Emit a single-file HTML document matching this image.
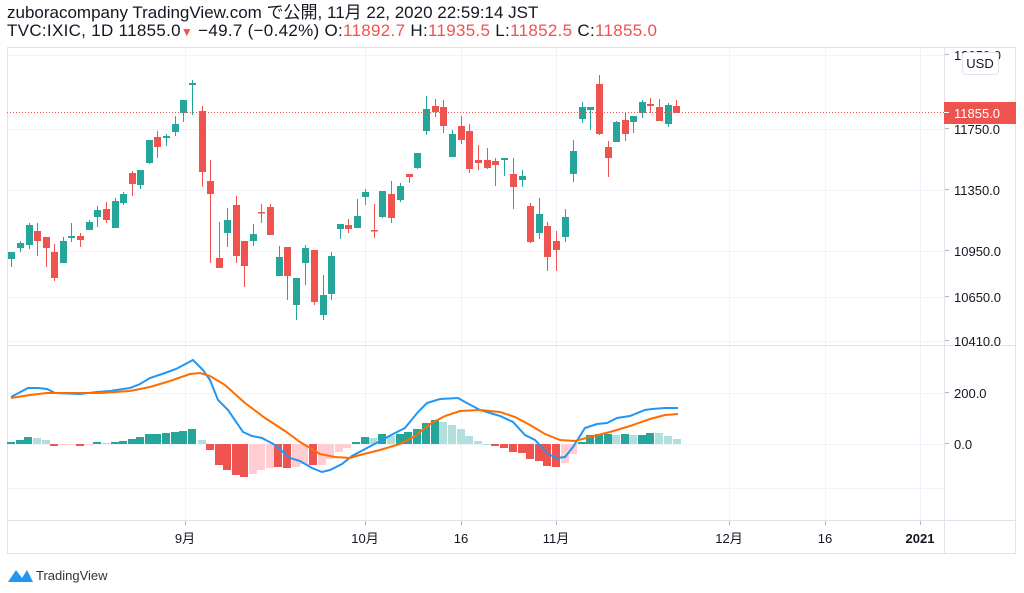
<!DOCTYPE html>
<html><head><meta charset="utf-8"><style>
body{margin:0;width:1024px;height:593px;background:#fff;overflow:hidden;font-family:"Liberation Sans","Noto Sans CJK JP",sans-serif;}
.h{position:absolute;left:7px;font-size:17px;color:#131722;white-space:nowrap;line-height:18px;}
.r{color:#ef5350}
</style></head><body>
<div class="h" style="top:4px">zuboracompany TradingView.com で公開, 11月 22, 2020 22:59:14 JST</div>
<div class="h" style="top:22px;letter-spacing:0.3px">TVC:IXIC, 1D 11855.0<span class="r" style="font-size:12px">▼</span> −49.7 (−0.42%) O:<span class="r">11892.7</span> H:<span class="r">11935.5</span> L:<span class="r">11852.5</span> C:<span class="r">11855.0</span></div>
<svg id="s" width="1024" height="593" style="position:absolute;left:0;top:0" xmlns="http://www.w3.org/2000/svg" font-family="Liberation Sans, Noto Sans CJK JP, sans-serif"></svg>
<script>
const s=document.getElementById('s');let o='';
const L=(x1,y1,x2,y2,c,w,d)=>o+=`<line x1="${x1}" y1="${y1}" x2="${x2}" y2="${y2}" stroke="${c}" stroke-width="${w||1}" ${d?'stroke-dasharray="'+d+'"':''}/>`;
const R=(x,y,w,h,c)=>o+=`<rect x="${x}" y="${y}" width="${w}" height="${h}" fill="${c}"/>`;
const T=(x,y,t,sz,c,a,wt)=>o+=`<text x="${x}" y="${y}" font-size="${sz}" fill="${c||'#131722'}" text-anchor="${a||'start'}" ${wt?'font-weight="bold"':''}>${t}</text>`;
const G='#f0f3fa';
[185,365,461,556,729,825,920].forEach(x=>L(x+.5,47,x+.5,520,G));
[55,129,190,251,297,341].forEach(y=>L(7,y+.5,944,y+.5,G));
[393,444,488].forEach(y=>L(7,y+.5,944,y+.5,G));
const B='#e0e3eb';
L(7.5,47,7.5,553,B);L(7,47.5,1016,47.5,B);L(1015.5,47,1015.5,553,B);L(7,553.5,1016,553.5,B);
L(944.5,47,944.5,553,B);L(7,345.5,1016,345.5,B);L(7,520.5,1016,520.5,B);
const C=[[11,259,252,252,267],[20,248,243,241,252],[29,245,225,223,249],[37,231,241,223,256],[46,237,248,237,267],[54,252,278,244,281],[63,263,241,237,263],[71,238,236,223,242],[80,236,240,233,247],[89,230,222,220,230],[97,217,210,206,227],[106,209,220,202,223],[115,228,201,198,228],[123,203,194,192,205],[132,173,184,171,196],[140,185,170,170,189],[149,163,140,140,164],[157,137,147,131,158],[166,138,136,134,146],[175,132,124,116,136],[183,113,100,100,122],[192,85,83,80,115],[202,111,172,106,187],[210,181,194,160,263],[219,258,268,222,268],[227,233,220,208,247],[236,205,256,196,263],[244,241,266,241,287],[253,241,234,224,246],[261,212,213,204,223],[270,207,235,204,235],[279,276,257,246,276],[287,247,276,247,300],[296,305,278,278,320],[305,263,248,245,285],[314,250,302,250,305],[323,315,295,275,320],[331,294,256,252,300],[340,229,224,224,239],[348,225,229,219,233],[357,228,216,199,228],[365,197,192,189,205],[374,230,231,204,238],[382,217,191,191,218],[391,194,218,181,223],[400,200,186,183,202],[409,174,177,174,183],[417,168,153,153,169],[426,131,109,96,135],[435,106,112,99,117],[443,107,126,100,133],[452,157,134,130,157],[461,126,140,116,144],[469,131,169,124,173],[478,160,163,145,170],[487,160,168,148,169],[495,161,165,158,186],[504,160,158,158,176],[513,174,187,158,209],[522,180,176,170,187],[530,206,242,203,243],[539,233,214,198,239],[547,226,257,222,271],[556,241,250,231,271],[565,237,217,209,242],[573,174,151,140,182],[582,119,107,102,123],[590,110,107,107,130],[599,84,134,75,135],[608,147,158,141,177],[616,142,122,121,142],[625,120,134,113,141],[633,122,116,116,133],[642,113,102,100,118],[650,104,106,98,113],[659,107,121,99,121],[668,124,105,103,127],[676,106,113,100,113]];
C.forEach(([x,op,cl,h,l])=>{const up=cl<op;const c=up?'#26a69a':'#ef5350';L(x+.5,h,x+.5,l,c);const t=Math.min(op,cl),b=Math.max(op,cl);R(x-3,t,7,Math.max(b-t,1.5),c);});
L(7,112.5,944,112.5,'#ef5350',1,'1 2');
const DG='#26a69a',LG='#b2dfdb',DR='#ef5350',LR='#ffcdd2';
const H=[[11,442,DG],[20,440,DG],[28,437,DG],[37,438,LG],[46,440,LG],[54,446,DR],[63,445,LR],[71,445,LR],[80,446,DR],[89,445,LR],[97,442,DG],[106,443,LG],[115,442,DG],[123,441,DG],[132,439,DG],[140,437,DG],[149,434,DG],[157,434,DG],[166,433,DG],[175,432,DG],[183,431,DG],[192,429,DG],[202,440,LG],[210,450,DR],[219,465,DR],[227,470,DR],[236,475,DR],[244,477,DR],[253,474,LR],[261,470,LR],[270,468,LR],[278,467,DR],[287,468,DR],[296,467,LR],[304,464,LR],[313,465,DR],[322,465,LR],[330,459,LR],[339,452,LR],[347,448,LR],[356,442,DG],[365,437,DG],[373,438,LG],[382,434,DG],[391,436,LG],[400,434,DG],[408,432,DG],[417,429,DG],[426,423,DG],[435,420,DG],[443,422,LG],[452,425,LG],[461,429,LG],[469,436,LG],[478,441,LG],[487,444,LG],[495,446,DR],[504,448,DR],[513,452,DR],[522,453,DR],[530,459,DR],[539,461,DR],[547,466,DR],[556,467,DR],[565,463,LR],[573,454,LR],[582,442,DG],[590,435,DG],[599,434,DG],[608,434,DG],[616,435,LG],[625,434,DG],[633,435,LG],[642,435,DG],[650,433,DG],[659,433,LG],[668,436,LG],[677,439,LG]];
H.forEach(([x,y,c])=>{const t=Math.min(y,444),b=Math.max(y,444);R(x-4,t,8,Math.max(b-t,1),c);});
const P=a=>a.map(p=>p.join(',')).join(' ');
const blue=[[11,397],[28,388],[38,388],[47,389],[55,393],[80,394],[97,392],[110,391],[130,388],[140,384],[150,378],[165,373],[176,369],[193,360],[203,370],[210,380],[218,400],[228,410],[243,432],[252,436],[262,438],[275,445],[290,458],[300,461],[312,468],[322,472],[330,470],[342,464],[352,456],[367,448],[380,441],[395,433],[405,428],[418,412],[427,403],[440,399],[458,398],[465,402],[480,410],[500,416],[513,422],[525,435],[535,440],[548,454],[557,458],[565,457],[573,447],[585,428],[597,424],[607,423],[617,418],[630,416],[645,410],[652,409],[665,408],[678,408]];
const orng=[[11,398],[30,395],[47,393],[100,393],[130,391],[150,387],[170,381],[190,374],[200,373],[210,376],[225,385],[245,403],[265,418],[285,431],[300,442],[310,448],[320,454],[335,457],[350,458],[360,455],[380,450],[400,444],[415,436],[430,424],[445,416],[460,411],[480,410],[500,412],[515,417],[530,425],[545,434],[560,440],[575,441],[590,437],[610,432],[630,426],[650,419],[665,415],[678,414]];
o+=`<polyline points="${P(blue)}" fill="none" stroke="#2196f3" stroke-width="2"/>`;
o+=`<polyline points="${P(orng)}" fill="none" stroke="#ff6d00" stroke-width="2"/>`;
[[60,'12050.0'],[134,'11750.0'],[195,'11350.0'],[256,'10950.0'],[302,'10650.0'],[346,'10410.0'],[398,'200.0'],[449,'0.0']].forEach(([y,t])=>{L(945,y-5.5,949,y-5.5,'#b2b5be');T(954,y,t,13);});
o+=`<rect x="962.5" y="52.5" width="36" height="22" rx="3" fill="#fff" stroke="#e0e3eb"/>`;T(980,68,'USD',13,'#131722','middle');
R(944,102,72,22,'#ef5350');L(944,112.5,949,112.5,'#fff');T(954,118,'11855.0',13,'#fff');
[[185,'9月'],[365,'10月'],[461,'16'],[556,'11月'],[729,'12月'],[825,'16'],[920,'2021',1]].forEach(([x,t,b])=>{L(x+.5,521,x+.5,525,'#b2b5be');T(x,543,t,13,'#131722','middle',b);});
o+=`<path d="M8 582 L16 570 L22 578 L27 570 L33 582 Z" fill="#2196f3"/>`;T(36,580,'TradingView',13,'#333');
s.innerHTML=o;
</script>
</body></html>
